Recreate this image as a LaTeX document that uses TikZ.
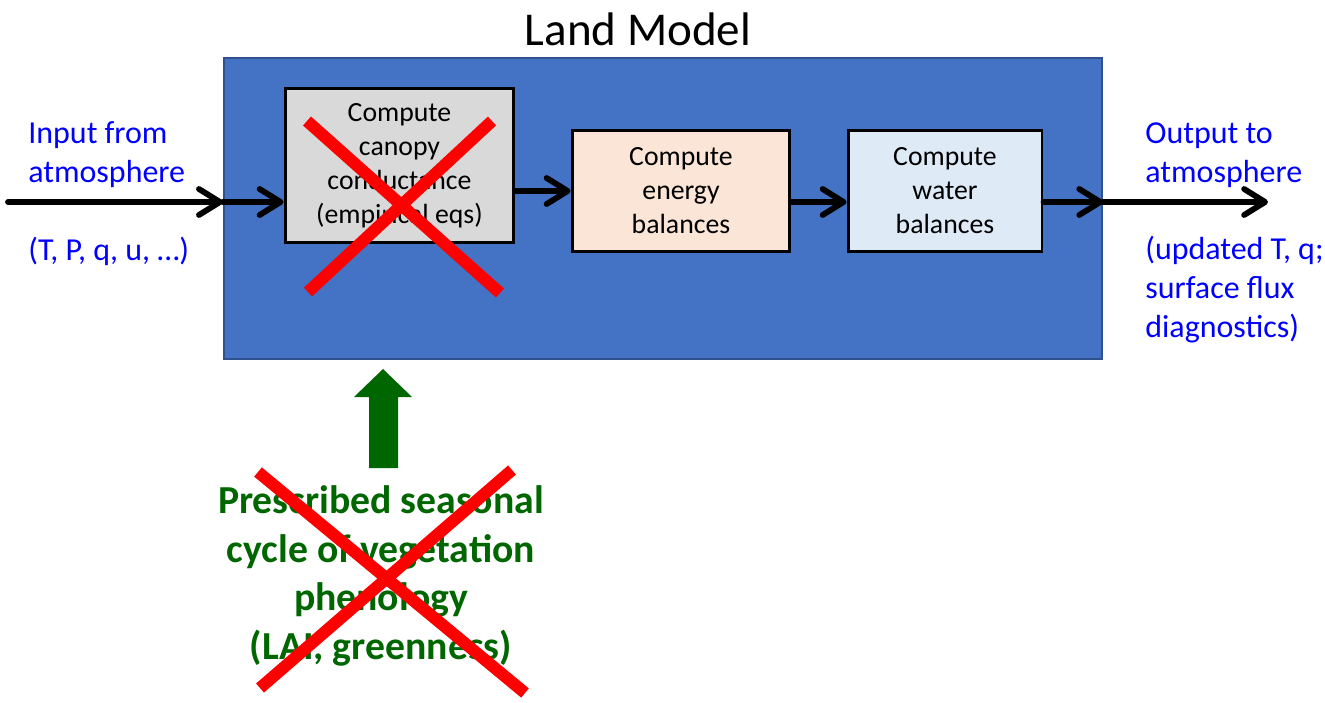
\documentclass[tikz,border=0pt]{standalone}
\usepackage{fontspec}
\setmainfont{Carlito}
\usetikzlibrary{arrows.meta}

\definecolor{landblue}{HTML}{4472C4}
\definecolor{landedge}{HTML}{2F528F}
\definecolor{greybox}{HTML}{D9D9D9}
\definecolor{peachbox}{HTML}{FBE5D6}
\definecolor{icebox}{HTML}{DEEBF7}
\definecolor{atmblue}{HTML}{0000FF}
\definecolor{leaf}{HTML}{006600}

\begin{document}
\begin{tikzpicture}[x=0.02cm,y=-0.02cm,
    box/.style={draw=black,line width=1.7pt,inner sep=0pt,align=center,
        font=\fontsize{15.8}{19.3}\selectfont},
    flow/.style={line width=3.3pt,line cap=round,
        -{Straight Barb[length=0.42cm,width=0.52cm,line cap=round,line join=round]}},
    cross/.style={red,line width=0.24cm},
    atmtext/.style={atmblue,anchor=west,align=left,inner sep=0pt,
        font=\fontsize{18.2}{22.2}\selectfont}]
    \useasboundingbox (0,0) rectangle (1325,703);

    \node[font=\fontsize{26.8}{30}\selectfont] (title) at (638,29) {Land Model};

    % the land model and its three steps
    \node[draw=landedge,line width=1.4pt,fill=landblue,inner sep=0pt,
        minimum width=17.56cm,minimum height=6.02cm] (land) at (663,208.5) {};
    \node[box,fill=greybox,minimum width=4.58cm,minimum height=3.1cm] (canopy) at (399.5,165.5)
        {Compute\\canopy\\conductance\\(empirical eqs)};
    \node[box,fill=peachbox,minimum width=4.36cm,minimum height=2.44cm] (energy) at (681,191)
        {Compute\\energy\\balances};
    \node[box,fill=icebox,minimum width=3.88cm,minimum height=2.44cm] (water) at (945,191)
        {Compute\\water\\balances};

    % coupling to the atmosphere
    \coordinate (src) at (8,202);
    \coordinate (dst) at (1268,202);
    \node[atmtext] (intxt) at (28,155) {Input from\\atmosphere};
    \node[atmtext] (invars) at (28,251) {(T, P, q, u, …)};
    \node[atmtext] (outtxt) at (1145,155) {Output to\\atmosphere};
    \node[atmtext] (outvars) at (1145,290) {(updated T, q;\\surface flux\\diagnostics)};

    \draw[flow] (src) -- (src -| land.west);
    \draw[flow] (src -| land.west) -- (src -| canopy.west);
    \draw[flow] (canopy.east |- energy.west) -- (energy.west);
    \draw[flow] (energy.east |- src) -- (water.west |- src);
    \draw[flow] (water.east |- src) -- (src -| land.east);
    \draw[flow] (src -| land.east) -- (dst);

    % phenology forcing
    \node[leaf,align=center,inner sep=0pt,font=\bfseries\fontsize{22.6}{27.6}\selectfont] (pheno) at (381,576)
        {Prescribed seasonal\\cycle of vegetation\\phenology\\(LAI, greenness)};
    \fill[leaf] (369,468) -- (369,397) -- (354,397) -- (383,369) -- (412,397)
        -- (398,397) -- (398,468) -- cycle;

    % crossed out
    \draw[cross] (307,121) -- (500,293);
    \draw[cross] (492,121) -- (308,292);
    \draw[cross] (258,472) -- (525,693);
    \draw[cross] (512,470) -- (260,688);
\end{tikzpicture}
\end{document}
